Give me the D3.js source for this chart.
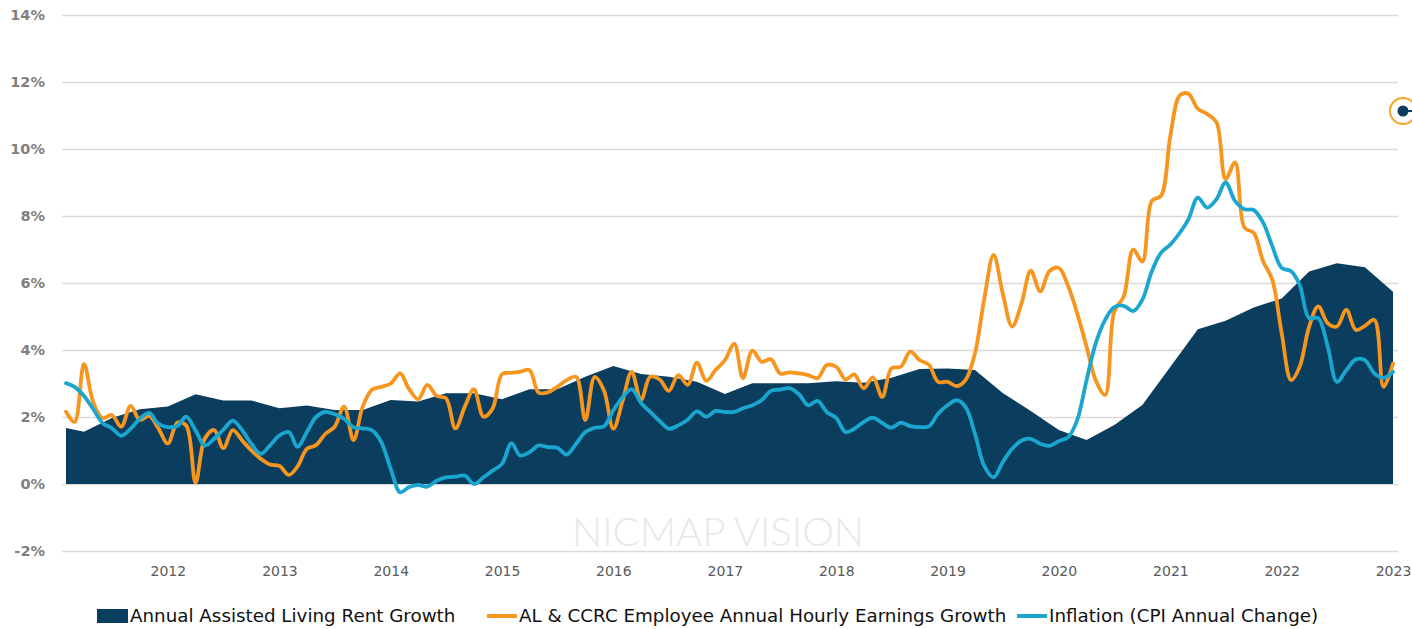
<!DOCTYPE html>
<html>
    <head>
        <meta charset="utf-8">
        <script type="text/javascript" src="https://d3js.org/d3.v7.min.js" charset="utf-8"></script>
        <style>
            html, body { margin: 0; padding: 0; background: #ffffff; }
            svg { display: block; }
        </style>
    </head>
    <body>
        <script>
            const WIDTH = 1412;
            const HEIGHT = 629;

            const PLOT_LEFT = 62;
            const PLOT_RIGHT = 1398;
            const X_START = 66;
            const X_END = 1393;
            const Y_TOP = 15;
            const Y_BOTTOM = 551;

            const NAVY = '#0a3d5e';
            const ORANGE = '#f7961e';
            const BLUE = '#1aa6cf';
            const GRID_COLOR = '#d9d9d9';
            const LINE_WIDTH = 3.8;

            const FONT = "'DejaVu Sans', 'Noto Sans', sans-serif";

            // y ticks (percent)
            const Y_TICKS = [-2, 0, 2, 4, 6, 8, 10, 12, 14];
            const X_TICK_YEARS = [2012, 2013, 2014, 2015, 2016, 2017, 2018, 2019, 2020, 2021, 2022, 2023];

            // assisted living rent growth, quarterly (first point is Feb 2011)
            const RENT_DATES = ['2011-02', '2011-04', '2011-07', '2011-10',
                '2012-01', '2012-04', '2012-07', '2012-10',
                '2013-01', '2013-04', '2013-07', '2013-10',
                '2014-01', '2014-04', '2014-07', '2014-10',
                '2015-01', '2015-04', '2015-07', '2015-10',
                '2016-01', '2016-04', '2016-07', '2016-10',
                '2017-01', '2017-04', '2017-07', '2017-10',
                '2018-01', '2018-04', '2018-07', '2018-10',
                '2019-01', '2019-04', '2019-07', '2019-10',
                '2020-01', '2020-04', '2020-07', '2020-10',
                '2021-01', '2021-04', '2021-07', '2021-10',
                '2022-01', '2022-04', '2022-07', '2022-10',
                '2023-01'];
            const RENT_GROWTH = [1.67, 1.56, 1.97, 2.23,
                2.31, 2.68, 2.49, 2.49,
                2.26, 2.34, 2.21, 2.21,
                2.51, 2.46, 2.71, 2.71,
                2.53, 2.83, 2.83, 3.20,
                3.52, 3.28, 3.20, 3.05,
                2.69, 3.01, 3.01, 3.01,
                3.07, 3.02, 3.17, 3.43,
                3.45, 3.40, 2.72, 2.18,
                1.61, 1.31, 1.76, 2.36,
                3.50, 4.62, 4.87, 5.27,
                5.54, 6.34, 6.59, 6.47,
                5.74];

            // monthly series, Feb 2011 .. Jan 2023
            const FIRST_MONTH = '2011-02';
            const LAST_MONTH = '2023-01';

            const EARNINGS_GROWTH = [
                2.16, 1.85, 3.58, 2.45, 1.96, 2.06, 1.71, 2.33, 1.91, 2.03, 1.66,           // 2011
                1.21, 1.83, 1.75, 0.04, 1.35, 1.61, 1.07, 1.61, 1.30, 1.00, 0.75, 0.58,     // 2012
                0.54, 0.27, 0.52, 1.05, 1.16, 1.50, 1.71, 2.31, 1.31, 2.31, 2.82, 2.90,     // 2013
                3.00, 3.30, 2.85, 2.53, 2.96, 2.63, 2.56, 1.66, 2.31, 2.83, 2.01, 2.25,     // 2014
                3.28, 3.32, 3.35, 3.40, 2.73, 2.74, 2.90, 3.10, 3.20, 1.91, 3.20, 2.80,     // 2015
                1.65, 2.50, 3.35, 2.51, 3.20, 3.12, 2.78, 3.25, 2.96, 3.62, 3.08, 3.40,     // 2016
                3.70, 4.18, 3.16, 3.98, 3.65, 3.72, 3.30, 3.33, 3.30, 3.25, 3.16, 3.55,     // 2017
                3.50, 3.12, 3.27, 2.86, 3.18, 2.60, 3.45, 3.50, 3.95, 3.70, 3.56, 3.05,     // 2018
                3.05, 2.92, 3.10, 3.90, 5.50, 6.84, 5.69, 4.70, 5.40, 6.37, 5.75, 6.35,     // 2019
                6.45, 5.90, 5.10, 4.10, 3.10, 2.66, 5.15, 5.60, 7.00, 6.64, 8.45, 8.60,     // 2020
                10.40, 11.60, 11.65, 11.20, 11.05, 10.80, 9.10, 9.60, 7.65, 7.50, 6.65, 6.10, // 2021
                4.50, 3.10, 3.50, 4.70, 5.30, 4.80, 4.70, 5.20, 4.60, 4.72, 4.90, 2.90,     // 2022
                3.60                                                                        // 2023
            ];

            const CPI_CHANGE = [
                3.01, 2.90, 2.63, 2.24, 1.82, 1.67, 1.44, 1.65, 1.95, 2.12, 1.80,           // 2011
                1.70, 1.73, 2.01, 1.60, 1.15, 1.35, 1.62, 1.89, 1.60, 1.20, 0.90, 1.15,     // 2012
                1.45, 1.55, 1.11, 1.55, 2.00, 2.15, 2.08, 1.95, 1.69, 1.66, 1.60, 1.25,     // 2013
                0.45, -0.25, -0.10, -0.03, -0.08, 0.10, 0.20, 0.22, 0.25, 0.00, 0.20, 0.40, // 2014
                0.60, 1.22, 0.85, 0.95, 1.15, 1.10, 1.08, 0.88, 1.20, 1.55, 1.68, 1.72,     // 2015
                2.20, 2.60, 2.83, 2.42, 2.15, 1.88, 1.65, 1.75, 1.92, 2.17, 2.01, 2.18,     // 2016
                2.15, 2.15, 2.26, 2.35, 2.50, 2.78, 2.82, 2.86, 2.68, 2.35, 2.48, 2.15,     // 2017
                1.97, 1.55, 1.65, 1.85, 1.98, 1.82, 1.68, 1.83, 1.73, 1.70, 1.72, 2.10,     // 2018
                2.35, 2.50, 2.30, 1.50, 0.55, 0.20, 0.65, 1.05, 1.30, 1.35, 1.20, 1.14,     // 2019
                1.28, 1.40, 1.90, 3.10, 4.20, 4.90, 5.28, 5.32, 5.16, 5.50, 6.35, 6.90,     // 2020
                7.15, 7.50, 7.90, 8.55, 8.25, 8.50, 9.00, 8.45, 8.20, 8.18, 7.80, 7.10,     // 2021
                6.45, 6.35, 5.94, 4.95, 4.95, 4.10, 3.05, 3.40, 3.72, 3.70, 3.30, 3.17,     // 2022
                3.35                                                                        // 2023
            ];

            const LEGEND_LABELS = ['Annual Assisted Living Rent Growth',
                'AL & CCRC Employee Annual Hourly Earnings Growth',
                'Inflation (CPI Annual Change)'];

            const parseMonth = d3.timeParse('%Y-%m');
            const months = d3.timeMonth.range(parseMonth(FIRST_MONTH),
                d3.timeMonth.offset(parseMonth(LAST_MONTH), 1));

            const rentData = RENT_DATES.map(function(d, i){
                return {date: parseMonth(d), value: RENT_GROWTH[i]};
            });
            const earningsData = months.map(function(d, i){
                return {date: d, value: EARNINGS_GROWTH[i]};
            });
            const cpiData = months.map(function(d, i){
                return {date: d, value: CPI_CHANGE[i]};
            });

            let svg = d3.select('body')
            .append('svg')
            .attr('width', WIDTH)
            .attr('height', HEIGHT);

            let xScale = d3.scaleTime()
            .domain([parseMonth(FIRST_MONTH), parseMonth(LAST_MONTH)])
            .range([X_START, X_END]);
            let yScale = d3.scaleLinear()
            .domain([-2, 14])
            .range([Y_BOTTOM, Y_TOP]);

            // gridlines + y labels
            let yAxis = svg.append('g')
            .attr('transform', 'translate(' + PLOT_LEFT + ',0)')
            .call(d3.axisLeft(yScale)
                .tickValues(Y_TICKS)
                .tickSize(-(PLOT_RIGHT - PLOT_LEFT))
                .tickPadding(17)
                .tickFormat(function(d){ return d + '%'; }));
            yAxis.select('.domain').remove();
            yAxis.selectAll('line')
            .attr('stroke', GRID_COLOR)
            .attr('stroke-width', 1.5);
            yAxis.selectAll('text')
            .attr('fill', '#7f7f7f')
            .style('font-family', FONT)
            .style('font-size', '14.5px')
            .style('font-weight', 'bold');

            // watermark
            let mark = svg.append('g').attr('opacity', 0.6);
            mark.append('text')
            .attr('x', 718)
            .attr('y', 546)
            .attr('text-anchor', 'middle')
            .attr('fill', '#d3dae2')
            .style('font-family', "'Lato', sans-serif")
            .style('font-weight', 300)
            .style('font-size', '40px')
            .text('NICMAP VISION');

            // rent growth area
            let area = d3.area()
            .x(function(d){ return xScale(d.date); })
            .y0(yScale(0))
            .y1(function(d){ return yScale(d.value); });
            svg.append('path')
            .datum(rentData)
            .attr('d', area)
            .attr('fill', NAVY);

            let line = d3.line()
            .x(function(d){ return xScale(d.date); })
            .y(function(d){ return yScale(d.value); })
            .curve(d3.curveCatmullRom.alpha(0.5));

            svg.append('path')
            .datum(earningsData)
            .attr('d', line)
            .attr('fill', 'none')
            .attr('stroke', ORANGE)
            .attr('stroke-width', LINE_WIDTH)
            .attr('stroke-linejoin', 'round')
            .attr('stroke-linecap', 'round');

            svg.append('path')
            .datum(cpiData)
            .attr('d', line)
            .attr('fill', 'none')
            .attr('stroke', BLUE)
            .attr('stroke-width', LINE_WIDTH)
            .attr('stroke-linejoin', 'round')
            .attr('stroke-linecap', 'round');

            // x labels
            let xAxis = svg.append('g')
            .attr('transform', 'translate(0,' + 566 + ')')
            .call(d3.axisBottom(xScale)
                .tickValues(X_TICK_YEARS.map(function(y){ return new Date(y, 0, 1); }))
                .tickSize(0)
                .tickPadding(0)
                .tickFormat(d3.timeFormat('%Y')));
            xAxis.select('.domain').remove();
            xAxis.selectAll('text')
            .attr('fill', '#595959')
            .style('font-family', FONT)
            .style('font-size', '14px');

            // legend
            const LEGEND_Y = 616;
            let legend = svg.append('g');
            legend.append('rect')
            .attr('x', 97)
            .attr('y', LEGEND_Y - 7)
            .attr('width', 31)
            .attr('height', 14)
            .attr('fill', NAVY);
            legend.append('line')
            .attr('x1', 487).attr('x2', 517)
            .attr('y1', LEGEND_Y).attr('y2', LEGEND_Y)
            .attr('stroke', ORANGE)
            .attr('stroke-width', 4);
            legend.append('line')
            .attr('x1', 1017).attr('x2', 1047)
            .attr('y1', LEGEND_Y).attr('y2', LEGEND_Y)
            .attr('stroke', BLUE)
            .attr('stroke-width', 4);
            legend.selectAll('text')
            .data(LEGEND_LABELS)
            .enter()
            .append('text')
            .attr('x', function(d, i){ return [130, 519, 1049][i]; })
            .attr('y', LEGEND_Y)
            .attr('dy', '0.35em')
            .attr('fill', '#111111')
            .style('font-family', FONT)
            .style('font-size', '18.3px')
            .text(function(d){ return d; });

            // marker on right edge
            let pin = svg.append('g').attr('transform', 'translate(1403,111)');
            pin.append('circle')
            .attr('r', 13)
            .attr('fill', '#ffffff')
            .attr('stroke', '#f5a623')
            .attr('stroke-width', 2);
            pin.append('line')
            .attr('x1', 0).attr('x2', 12)
            .attr('y1', 0).attr('y2', 0)
            .attr('stroke', NAVY)
            .attr('stroke-width', 2);
            pin.append('circle')
            .attr('r', 5.5)
            .attr('fill', NAVY);
        </script>
    </body>
</html>
